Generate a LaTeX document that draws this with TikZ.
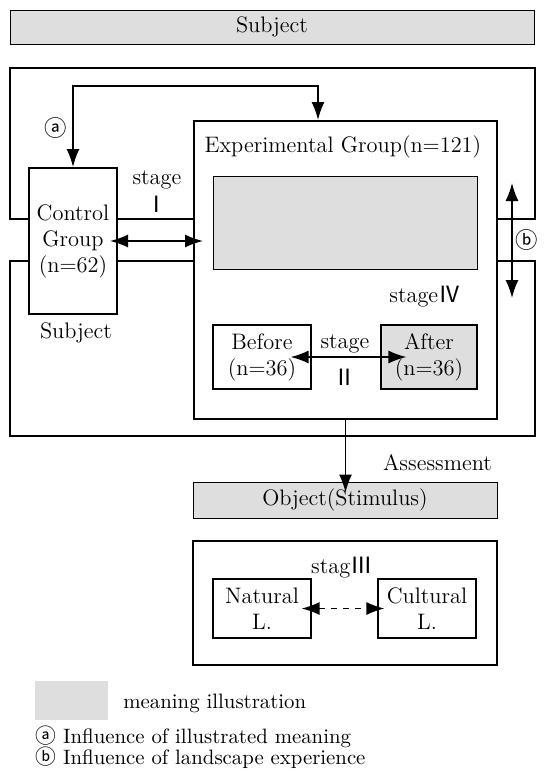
\documentclass[tikz,border=0pt]{standalone}
\usepackage{fontspec}
\usepackage{tikz}
\usetikzlibrary{arrows.meta}
\usetikzlibrary{positioning}
\newfontfamily\jpfont{Noto Sans CJK JP}
\newcommand{\rmI}{{\jpfont Ⅰ}}
\newcommand{\rmII}{{\jpfont Ⅱ}}
\newcommand{\rmIII}{{\jpfont Ⅲ}}
\newcommand{\rmIV}{{\jpfont Ⅳ}}
\newcommand{\circa}{{\jpfont ⓐ}}
\newcommand{\circb}{{\jpfont ⓑ}}

\begin{document}
\begin{tikzpicture}[x=0.5pt,y=-0.5pt,font=\fontsize{11.2}{13}\selectfont]
				\tikzset{box/.style = {shape=rectangle,draw,fill=white,line width=1pt,
						align=center, inner sep = 0pt}}
				\tikzset{shaded/.style = {fill=black!13}}
				\tikzset{bar/.style = {shape=rectangle,draw,shaded,line width=0.5pt,
						inner sep = 0pt}}
				\tikzset{frame/.style = {line width=0.6pt}}
				\tikzset{legend/.style = {anchor=west, inner sep=0pt, font=\fontsize{10.4}{12}\selectfont}}
				\tikzset{edge/.style = {-{Latex[length=9pt,width=6.5pt]}, line width=0.8pt}}
				\tikzset{edgebi/.style = {{Latex[length=9pt,width=6.5pt]}-{Latex[length=9pt,width=6.5pt]}, line width=0.8pt}}
				
				\useasboundingbox (0,0) rectangle (544,782);
				
				% frames
				\draw[frame] (10,68) rectangle (535,219);
				\draw[frame] (10,261) rectangle (535,436);
				\draw[frame] (193,541) rectangle (497,665);
				
				% vertices
				\node[bar, minimum width=262pt, minimum height=17pt] (subj) at (272,27) {Subject};
				\node[box, minimum width=44pt, minimum height=73pt] (ctrl) at (73,241) {Control\\Group\\(n=62)};
				\node[box, minimum width=151.5pt, minimum height=149pt] (exp) at (345.5,270) {};
				\node (explab) at (343,147) {Experimental Group(n=121)};
				\node[shaded, draw, line width=0.5pt, minimum width=132pt, minimum height=46.5pt] (illus) at (345,222.5) {};
				\node (stIV) at (425,297) {stage\rmIV};
				\node[box, line width=0.6pt, minimum width=49pt, minimum height=32pt] (before) at (262,357) {Before\\(n=36)};
				\node[box, shaded, line width=0.6pt, minimum width=48pt, minimum height=32pt] (after) at (429,357) {After\\(n=36)};
				\node (stII) at (345,344) {stage};
				\node (stIIb) at (345,377) {\rmII};
				\node (stI) at (157,180) {stage};
				\node (stIb) at (157,204) {\rmI};
				\node (lab-a) at (56,128) {\circa};
				\node (lab-b) at (527,240) {\circb};
				\node (subjlab) at (76,333) {Subject};
				\node[bar, minimum width=152pt, minimum height=18pt] (obj) at (345,500) {Object(Stimulus)};
				\node[anchor=east] (assess) at (499,463) {Assessment};
				\node[box, line width=0.6pt, minimum width=49pt, minimum height=29.5pt] (natural) at (262,608.5) {Natural\\L.};
				\node[box, line width=0.6pt, minimum width=49pt, minimum height=29.5pt] (cultural) at (427,608.5) {Cultural\\L.};
				\node (stIII) at (342,568) {stag\rmIII};
				
				% legend
				\node[shaded, minimum width=36.5pt, minimum height=19.5pt] (legsq) at (71.5,700.5) {};
				\node[legend] (legtxt) at (123,703) {meaning illustration};
				\node[legend] (lega) at (35,737) {\circa\ Influence of illustrated meaning};
				\node[legend] (legb) at (35,758) {\circb\ Influence of landscape experience};
				
				\coordinate (aup) at (318,86);
				\coordinate (b1) at (512,183);
				\coordinate (b2) at (512,298);
				
				%edges
				\draw[edgebi] (ctrl.north) |- (aup) -- (aup |- exp.north);
				\draw[edgebi, shorten <=-4pt, shorten >=-5pt] (ctrl.east) -- (ctrl.east -| exp.west);
				\draw[edgebi] (b1) -- (b2);
				\draw[edgebi, shorten <=-10.5pt, shorten >=-13pt] (before.east) -- (after.west);
				\draw[edge, shorten >=-5.5pt] (exp.south) -- (exp.south |- obj.north);
				\draw[edgebi, dashed, shorten <=-5pt, shorten >=-3.5pt] (natural.east) -- (cultural.west);
				
\end{tikzpicture}
\end{document}
